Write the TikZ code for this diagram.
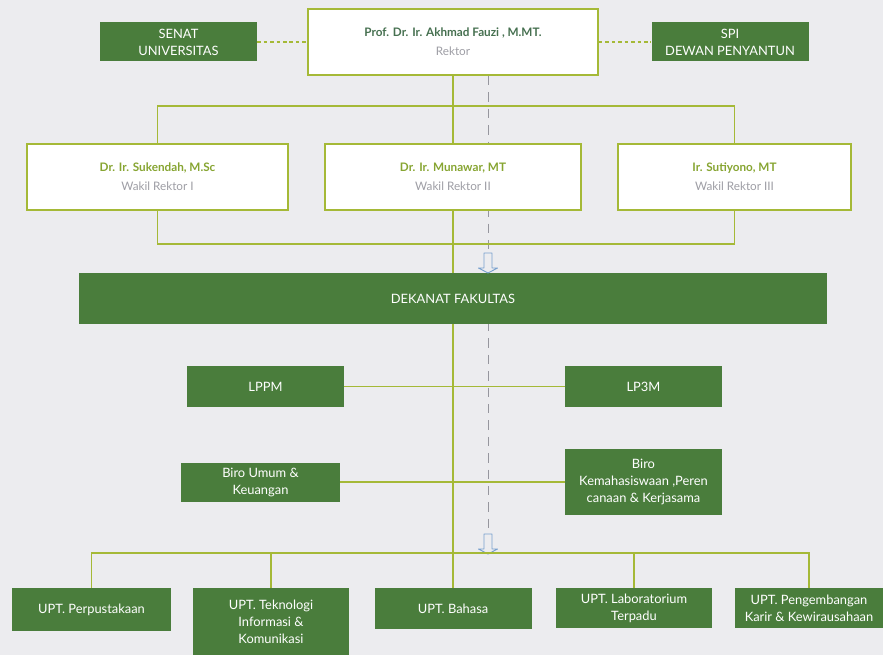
\documentclass[tikz,border=0pt]{standalone}
\usepackage{fontspec}
\setmainfont{Lato}

\definecolor{bgpaper}{RGB}{236,236,239}
\definecolor{dkgreen}{RGB}{74,125,60}
\definecolor{lineolive}{RGB}{165,185,55}
\definecolor{namegreen}{RGB}{70,112,80}
\definecolor{wrgreen}{RGB}{135,165,50}
\definecolor{titlegray}{RGB}{158,158,165}
\definecolor{arrowblue}{RGB}{120,160,205}
\definecolor{dashgray}{RGB}{150,150,158}

\newcommand{\personname}[2]{{\bfseries\color{#1}#2}}
\newcommand{\posttitle}[1]{{\color{titlegray}#1}}
% small hollow down arrow centred on a coordinate
\newcommand{\hollowdown}[1]{%
  \draw[hollowarrow] (#1) ++(-4,-10) -- ++(8,0) -- ++(0,15) -- ++(5.5,0)
    -- ++(-9.5,5) -- ++(-9.5,-5) -- ++(5.5,0) -- cycle;}

\begin{document}
\begin{tikzpicture}[x=0.3mm, y=-0.3mm,
  gbox/.style={fill=dkgreen, text=white, align=center, inner sep=1pt,
    minimum width=47.1mm, minimum height=11.7mm, font=\fontsize{11}{14.5}\selectfont},
  wbox/.style={draw=lineolive, line width=1.5pt, fill=white, align=center,
    minimum height=19.8mm, font=\fontsize{10}{16}\selectfont},
  link/.style={draw=lineolive, line width=1.5pt},
  dotlink/.style={draw=lineolive, line width=2pt, dash pattern=on 3pt off 2.5pt},
  dashline/.style={draw=dashgray, line width=0.6pt, dash pattern=on 8pt off 6pt},
  hollowarrow/.style={draw=arrowblue, fill=bgpaper, line width=0.8pt, line join=round}]

% paper
\fill[bgpaper] (0,0) rectangle (883,655);
\useasboundingbox (0,0) rectangle (883,655);

% dashed guide behind the boxes
\coordinate (dashtop) at (488,76);
\coordinate (dashend) at (488,535);
\draw[dashline] (dashtop) -- (dashend);

% top row
\node[gbox] (senat) at (178.5,42) {SENAT\\UNIVERSITAS};
\node[wbox, minimum width=87mm] (rektor) at (453,42)
  {\personname{namegreen}{Prof. Dr. Ir. Akhmad Fauzi , M.MT.}\\\posttitle{Rektor}};
\node[gbox] (spi) at (730,42) {SPI\\DEWAN PENYANTUN};

% wakil rektor
\node[wbox, minimum width=78.3mm] (wr1) at (157.5,177)
  {\personname{wrgreen}{Dr. Ir. Sukendah, M.Sc}\\\posttitle{Wakil Rektor I}};
\node[wbox, minimum width=76.8mm] (wr2) at (453,177)
  {\personname{wrgreen}{Dr. Ir. Munawar, MT}\\\posttitle{Wakil Rektor II}};
\node[wbox, minimum width=69.9mm] (wr3) at (734.5,177)
  {\personname{wrgreen}{Ir. Sutiyono, MT}\\\posttitle{Wakil Rektor III}};

% dekanat
\node[gbox, minimum width=224.4mm, minimum height=15.3mm] (dekanat) at (453,298.5) {DEKANAT FAKULTAS};

% lembaga and biro
\node[gbox, minimum height=12.3mm] (lppm) at (265.5,386.5) {LPPM};
\node[gbox, minimum height=12.3mm] (lp3m) at (643.5,386.5) {LP3M};
\node[gbox, minimum width=47.7mm] (biroumum) at (260.5,482) {Biro Umum \&\\Keuangan};
\node[gbox, minimum height=19.8mm] (birokmh) at (643.5,482) {Biro\\Kemahasiswaan ,Peren\\canaan \& Kerjasama};

% upt
\coordinate (uptbus) at (453,553);
\node[gbox, minimum width=47.7mm, minimum height=12.9mm] (upt1) at (91.5,609.5) {UPT. Perpustakaan};
\node[gbox, minimum width=46.8mm, minimum height=20.1mm] (upt2) at (271,621.5) {UPT. Teknologi\\Informasi \&\\Komunikasi};
\node[gbox, minimum height=12.3mm] (upt3) at (453,608.5) {UPT. Bahasa};
\node[gbox, minimum width=46.8mm, minimum height=12mm] (upt4) at (634,608) {UPT. Laboratorium\\Terpadu};
\node[gbox, minimum width=44.4mm, minimum height=12mm] (upt5) at (809,608) {UPT. Pengembangan\\Karir \& Kewirausahaan};

% small arrows on the guide
\coordinate (arr1) at (488,263);
\coordinate (arr2) at (488,544);
\hollowdown{arr1}
\hollowdown{arr2}

% connectors
\draw[dotlink] (senat) -- (rektor);
\draw[dotlink] (rektor) -- (spi);
\draw[link] (rektor) -- (wr2);
\draw[link] (wr1.north) -- ++(0,-37) -| (wr3.north);
\draw[link] (wr1.south) -- ++(0,33) -| (wr3.south);
\draw[link] (wr2) -- (dekanat);
\draw[link] (dekanat) -- (uptbus);
\draw[link] (lppm) -- (lp3m);
\draw[link] (biroumum) -- (birokmh);
\draw[link] (upt1.north) |- (uptbus) -| (upt5.north);
\foreach \u in {upt2,upt3,upt4}
  \draw[link] (\u.north) -- (\u.north |- uptbus);
\end{tikzpicture}
\end{document}
